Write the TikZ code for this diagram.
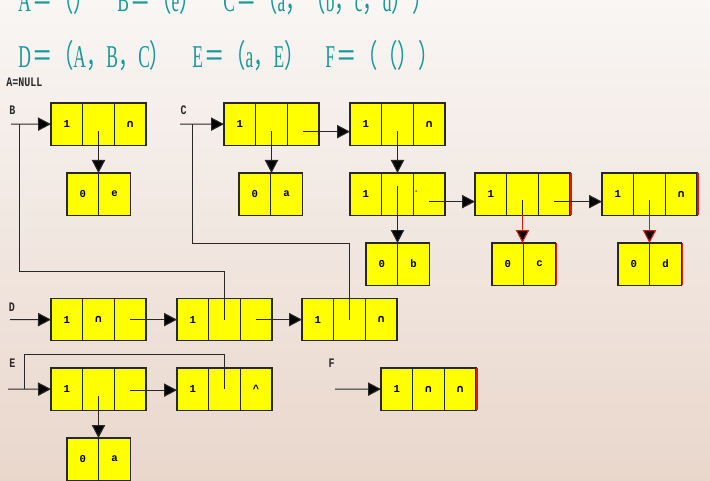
\documentclass[tikz,border=0pt]{standalone}
\usepackage{graphicx}
\usepackage{fontspec}
\setmainfont{Liberation Serif}
\newfontfamily\cjk{Noto Sans CJK SC}
\newfontfamily\monof{Liberation Mono}
\newfontfamily\symf{DejaVu Sans}
\usetikzlibrary{arrows.meta,calc}
\definecolor{tealtxt}{RGB}{24,152,152}
\definecolor{bgtop}{RGB}{249,246,244}
\definecolor{bgbot}{RGB}{233,215,204}
\definecolor{edgec}{RGB}{40,40,40}
\definecolor{yel}{RGB}{255,255,0}
\definecolor{redc}{RGB}{225,20,20}
\newcommand\fw[1]{\scalebox{0.64}[1]{\cjk #1}}
\newcommand\lt[1]{\scalebox{0.55}[1]{#1}}
\newcommand\nil{{\symf\fontsize{8pt}{9pt}\selectfont ∩}}
\newcommand\lnode[6]{%
  \node[cellbox] (#1-1) at (#2,#3) {#4};
  \node[cellbox] (#1-2) at (#1-1.north east) {#5};
  \node[cellbox] (#1-3) at (#1-2.north east) {#6};}
\newcommand\anode[5]{%
  \node[cellbox] (#1-1) at (#2,#3) {#4};
  \node[cellbox] (#1-2) at (#1-1.north east) {#5};}
\begin{document}
\begin{tikzpicture}[x=0.75pt,y=-0.75pt,
  cellbox/.style={draw=edgec, fill=yel, line width=0.8pt, minimum width=23.75pt,
    minimum height=31.7pt, inner sep=0pt, outer sep=0pt, anchor=north west,
    font=\monof\bfseries\fontsize{8pt}{9pt}\selectfont},
  ptr/.style={line width=0.8pt, draw=edgec, -{Triangle[length=9.75pt,width=10pt,fill=black]}},
  link/.style={line width=0.8pt, draw=edgec},
  redptr/.style={line width=0.8pt, draw=redc, -{Triangle[length=9.75pt,width=10pt,fill=black]}},
  rededge/.style={line width=0.9pt, draw=redc},
  lbl/.style={text=edgec, inner sep=0pt, font=\monof\bfseries\fontsize{7.5pt}{8pt}\selectfont},
  ttl/.style={text=tealtxt, inner sep=0pt, anchor=base west, font=\fontsize{23.8pt}{24pt}\selectfont}]
\useasboundingbox (0,0) rectangle (710,481);
\shade[top color=bgtop, bottom color=bgbot] (0,0) rectangle (710,481);
\clip (0,0) rectangle (710,481);

% titles
\node[ttl] (tA) at (18,12) {\lt{A}\kern1.5pt\fw{＝（）}};
\node[ttl] (tB) at (117,12) {\lt{B}\kern1.5pt\fw{＝（}\lt{e}\fw{）}};
\node[ttl] (tC) at (223,12) {\lt{C}\kern1.5pt\fw{＝（}\lt{a}\fw{，（}\lt{b}\fw{，}\lt{c}\fw{，}\lt{d}\fw{））}};
\node[ttl] (tD) at (18,68) {\lt{D}\kern1.5pt\fw{＝（}\lt{A}\fw{，}\lt{B}\fw{，}\lt{C}\fw{）}};
\node[ttl] (tE) at (192,68) {\lt{E}\kern1.5pt\fw{＝（}\lt{a}\fw{，}\lt{E}\fw{）}};
\node[ttl] (tF) at (325,68) {\lt{F}\kern1.5pt\fw{＝（（））}};

% labels
\node[lbl, anchor=west] (lA) at (6,82) {\scalebox{1}[1.3]{A=NULL}};
\node[lbl] (lB) at (12.5,110) {\scalebox{1}[1.3]{B}};
\node[lbl] (lC) at (183.5,110) {\scalebox{1}[1.3]{C}};
\node[lbl] (lD) at (12,307) {\scalebox{1}[1.3]{D}};
\node[lbl] (lE) at (12.5,363) {\scalebox{1}[1.3]{E}};
\node[lbl] (lF) at (331.5,363) {\scalebox{1}[1.3]{F}};

% nodes
\lnode{b1}{51}{103}{1}{}{\nil}
\anode{ba}{67}{173}{0}{e}
\lnode{c1}{224}{103}{1}{}{}
\anode{ca}{239}{173}{0}{a}
\lnode{c2}{350}{103}{1}{}{\nil}
\lnode{c3}{350}{173}{1}{}{}
\lnode{c4}{475}{173}{1}{}{}
\lnode{c5}{602}{173}{1}{}{\nil}
\anode{cb}{366}{243}{0}{b}
\anode{cc}{492}{243}{0}{c}
\anode{cd}{618}{243}{0}{d}
\lnode{d1}{51}{298.5}{1}{\nil}{}
\lnode{d2}{177}{298.5}{1}{}{}
\lnode{d3}{302}{298.5}{1}{}{\nil}
\lnode{e1}{51}{368}{1}{}{}
\lnode{e2}{177}{368}{1}{}{\textasciicircum}
\anode{ea}{67}{438}{0}{a}
\lnode{f1}{381}{368}{1}{\nil}{\nil}

% red right edges
\foreach \n in {c4-3,c5-3,cc-2,cd-2,f1-3}{
  \draw[rededge] ([xshift=0.75pt]\n.north east) -- ([xshift=0.75pt]\n.south east);}
\fill[redc] ($(c3-3.center)+(-13,-3)$) circle (0.7pt);

% entry coordinates
\coordinate (inB) at (11,124.15);
\coordinate (jB) at (19.5,124.15);
\coordinate (inC) at (180,124.15);
\coordinate (jC) at (192.5,124.15);
\coordinate (inD) at (10,319.6);
\coordinate (inE) at (8,389.15);
\coordinate (jE) at (24.5,389.15);
\coordinate (inF) at (335,389.15);

% entry arrows
\draw[ptr] (inB) -- (b1-1.west);
\draw[ptr] (inC) -- (c1-1.west);
\draw[ptr] (inD) -- (d1-1.west);
\draw[ptr] (inE) -- (e1-1.west);
\draw[ptr] (inF) -- (f1-1.west);

% back links
\draw[link] (d2-2.center) -- ++(0,-48.5) -| (jB);
\draw[link] (d3-2.center) -- ++(0,-76.5) -| (jC);
\draw[link] (e2-2.center) -- ++(0,-35) -| (jE);

% B
\draw[ptr] ($(b1-2.center)+(0,7)$) -- (b1-2.center |- ba-1.north);
% C
\coordinate (p1) at ($(c1-3.center)+(0,7.5)$);
\draw[ptr] (p1) -- (p1 -| c2-1.west);
\draw[ptr] ($(c1-2.center)+(0,7)$) -- (c1-2.center |- ca-1.north);
\draw[ptr] ($(c2-2.center)+(0,7)$) -- (c2-2.north |- c3-2.north);
\draw[ptr] ($(c3-2.center)+(0,-8)$) -- (c3-2.center |- cb-1.north);
\coordinate (p3) at ($(c3-3.center)+(0,7.5)$);
\draw[ptr] (p3) -- (p3 -| c4-1.west);
\coordinate (p4) at ($(c4-3.center)+(0,7.5)$);
\draw[ptr] (p4) -- (p4 -| c5-1.west);
\draw[link] ($(c4-2.center)+(0,6)$) -- (c4-2.south);
\draw[redptr] (c4-2.south) -- (c4-2.south |- cc-1.north);
\draw[link] ($(c5-2.center)+(0,6)$) -- (c5-2.south);
\draw[redptr] (c5-2.south) -- (c5-2.south |- cd-1.north);
% D
\draw[ptr] (d1-3.center) -- (d2-1.west);
\draw[ptr] (d2-3.center) -- (d3-1.west);
% E
\coordinate (pe) at ($(e1-3.center)+(0,1)$);
\draw[ptr] (pe) -- (pe -| e2-1.west);
\draw[ptr] ($(e1-2.center)+(0,7)$) -- (e1-2.center |- ea-1.north);
\end{tikzpicture}
\end{document}
